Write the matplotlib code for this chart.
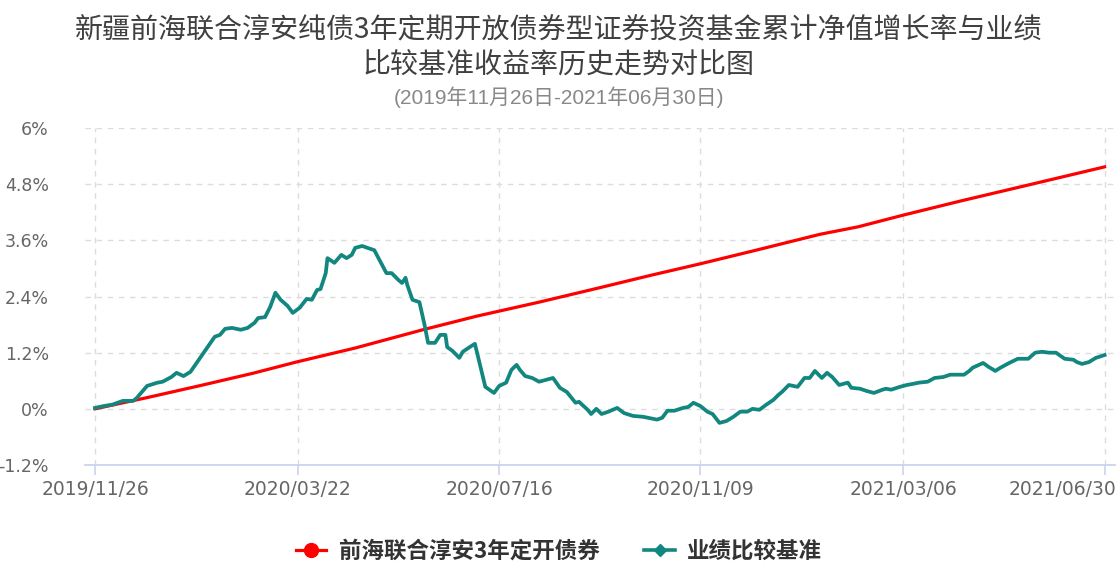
import matplotlib
matplotlib.use("Agg")
import matplotlib.pyplot as plt
import matplotlib.transforms as mtransforms
from matplotlib.lines import Line2D
import pandas as pd

plt.rcParams["font.family"] = ["DejaVu Sans", "Noto Sans CJK SC"]

# ── Data ─────────────────────────────────────────────────────────────────────
START = pd.Timestamp("2019-11-26")
tick_dates = ["2019/11/26", "2020/03/22", "2020/07/16", "2020/11/09", "2021/03/06", "2021/06/30"]
y_ticks = [-1.2, 0, 1.2, 2.4, 3.6, 4.8, 6]
y_tick_labels = ["-1.2%", "0%", "1.2%", "2.4%", "3.6%", "4.8%", "6%"]

# fund: cumulative NAV growth (%), days since start
fund_days = [0, 30, 61, 91, 116, 150, 189, 220, 256, 290, 320, 349, 380,
             418, 440, 466, 500, 540, 582]
fund_vals = [0.00, 0.24, 0.50, 0.76, 1.00, 1.30, 1.69, 1.98, 2.28, 2.58, 2.85, 3.10, 3.38,
             3.73, 3.89, 4.14, 4.45, 4.80, 5.17]

# benchmark return (%), days since start
bench_days = [0, 5, 10, 16, 22, 24, 30, 36, 39, 44, 47, 51, 55, 61, 65, 69, 72, 75, 79, 84,
              88, 92, 94, 98, 101, 104, 107, 111, 114, 118, 122, 125, 128, 130, 133, 134,
              138, 142, 145, 148, 150, 154, 157, 161, 164, 168, 171, 175, 177, 179, 180,
              183, 187, 190, 192, 196, 199, 202, 203, 206, 210, 212, 216, 219, 225, 230,
              233, 237, 240, 243, 245, 248, 252, 256, 260, 264, 268, 272, 277, 279, 284,
              286, 289, 292, 296, 301, 305, 310, 316, 324, 327, 330, 334, 339, 342, 345,
              349, 353, 356, 360, 364, 368, 372, 376, 379, 383, 387, 391, 394, 396, 400,
              405, 409, 412, 415, 419, 422, 425, 429, 434, 436, 441, 445, 449, 454, 456,
              459, 464, 468, 471, 475, 480, 484, 489, 493, 497, 501, 504, 506, 512, 515,
              519, 522, 527, 532, 538, 542, 546, 550, 554, 559, 564, 566, 569, 573, 577, 582]
bench_vals = [0.02, 0.06, 0.09, 0.17, 0.17, 0.23, 0.49, 0.56, 0.58, 0.68, 0.77, 0.70, 0.79,
              1.11, 1.32, 1.54, 1.58, 1.71, 1.73, 1.69, 1.73, 1.84, 1.94, 1.96, 2.18, 2.48,
              2.33, 2.20, 2.05, 2.16, 2.35, 2.33, 2.54, 2.56, 2.90, 3.22, 3.12, 3.29, 3.22,
              3.29, 3.44, 3.48, 3.44, 3.39, 3.18, 2.90, 2.90, 2.75, 2.69, 2.80, 2.65, 2.33,
              2.28, 1.79, 1.41, 1.41, 1.58, 1.58, 1.32, 1.24, 1.09, 1.22, 1.32, 1.39, 0.47,
              0.34, 0.49, 0.56, 0.83, 0.94, 0.83, 0.70, 0.66, 0.58, 0.62, 0.66, 0.45, 0.36,
              0.13, 0.15, -0.02, -0.11, 0.00, -0.11, -0.06, 0.02, -0.09, -0.15, -0.17, -0.23,
              -0.19, -0.04, -0.04, 0.02, 0.04, 0.13, 0.06, -0.06, -0.11, -0.30, -0.26, -0.17,
              -0.06, -0.06, 0.00, -0.02, 0.09, 0.19, 0.30, 0.36, 0.51, 0.47, 0.66, 0.66, 0.81,
              0.66, 0.77, 0.68, 0.51, 0.56, 0.45, 0.43, 0.38, 0.34, 0.41, 0.43, 0.41, 0.47,
              0.51, 0.53, 0.56, 0.58, 0.66, 0.68, 0.73, 0.73, 0.73, 0.81, 0.88, 0.98, 0.90,
              0.81, 0.88, 0.98, 1.07, 1.07, 1.20, 1.22, 1.20, 1.20, 1.07, 1.05, 1.00, 0.96,
              1.00, 1.09, 1.15]

fund_name = "前海联合淳安3年定开债券"
bench_name = "业绩比较基准"
title = "新疆前海联合淳安纯债3年定期开放债券型证券投资基金累计净值增长率与业绩\n比较基准收益率历史走势对比图"
subtitle = "(2019年11月26日-2021年06月30日)"

RED = "#ff0000"
TEAL = "#12877f"
AXIS_BLUE = "#c9d4ee"

fund_x = START + pd.to_timedelta(fund_days, unit="D")
bench_x = START + pd.to_timedelta(bench_days, unit="D")
tick_x = pd.to_datetime(tick_dates, format="%Y/%m/%d")

# ── Plot ─────────────────────────────────────────────────────────────────────
fig = plt.figure(figsize=(11.18, 5.64), dpi=100)
ax = fig.add_axes([0.076, 0.1755, 0.921, 0.5975])

ax.plot(fund_x, fund_vals, color=RED, lw=2.3, solid_joinstyle="round", zorder=3)
ax.plot(bench_x, bench_vals, color=TEAL, lw=2.7, solid_joinstyle="round", zorder=4)

pad = pd.Timedelta(days=5.8)
ax.set_xlim(tick_x[0] - pad, tick_x[-1] + pad)
ax.set_ylim(-1.2, 6)

ax.set_xticks(tick_x)
ax.set_xticklabels(tick_dates)
ax.set_yticks(y_ticks)
ax.set_yticklabels(y_tick_labels)

for s in ["top", "right", "left"]:
    ax.spines[s].set_visible(False)
ax.spines["bottom"].set_color(AXIS_BLUE)
ax.spines["bottom"].set_linewidth(1.3)

ax.grid(True, color="#dcdcdc", linestyle=(0, (4, 4)), linewidth=1.0, zorder=0)
ax.tick_params(axis="x", colors=AXIS_BLUE, length=7, width=1.2, labelcolor="#666666",
               labelsize=13.5, pad=4)
ax.tick_params(axis="y", length=0, labelcolor="#666666", labelsize=12.5, pad=26)

# last date label sits flush with the right edge
last = ax.get_xticklabels()[-1]
last.set_horizontalalignment("right")
last.set_transform(last.get_transform() + mtransforms.ScaledTranslation(0.12, 0, fig.dpi_scale_trans))

fig.text(0.5, 0.916, title, ha="center", va="center", fontsize=20.2, color="#404040",
         family=["Noto Sans CJK SC"], linespacing=1.2)
fig.text(0.5, 0.828, subtitle, ha="center", va="center", fontsize=15, color="#888888",
         family=["Liberation Sans", "Noto Sans CJK SC"])

handles = [
    Line2D([], [], color=RED, lw=2.3, marker="o", markersize=10),
    Line2D([], [], color=TEAL, lw=2.6, marker="D", markersize=6),
]
leg = fig.legend(handles, [fund_name, bench_name], loc="center", bbox_to_anchor=(0.5, 0.023),
                 ncol=2, frameon=False, handlelength=1.35, columnspacing=2.0, handletextpad=0.55,
                 prop={"family": ["Noto Sans CJK SC"], "size": 16.2, "weight": "bold"})
for t in leg.get_texts():
    t.set_color("#333333")

fig.savefig("out.png", dpi=100)
